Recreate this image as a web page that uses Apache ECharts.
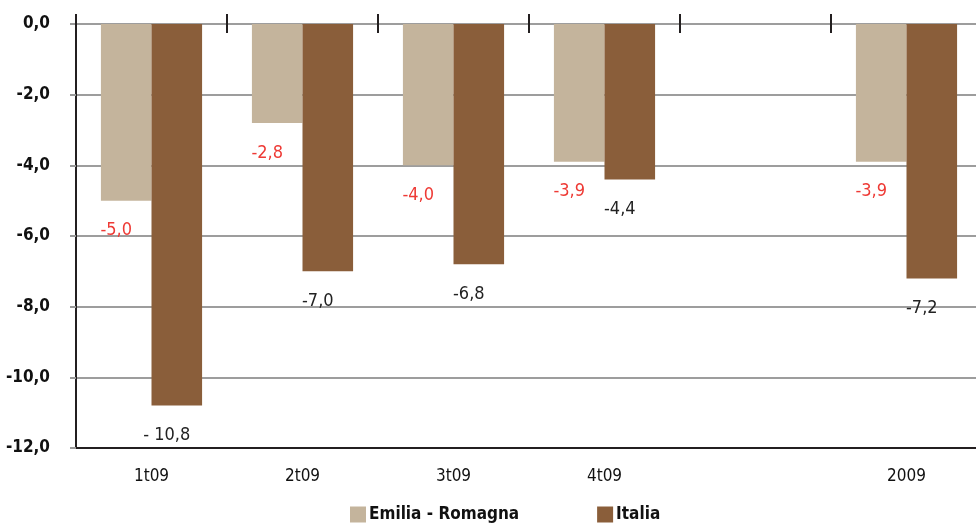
<!DOCTYPE html>
<html>
<head>
<meta charset="utf-8">
<script src="https://cdn.jsdelivr.net/npm/echarts@6/dist/echarts.min.js"></script>
<style>
  html, body { margin: 0; padding: 0; background: #fff; }
  #main { width: 976px; height: 523px; }
</style>
</head>
<body>
<div id="main"></div>
<script>
const categories = ['1t09', '2t09', '3t09', '4t09', '', '2009'];
const emilia = [-5.0, -2.8, -4.0, -3.9, null, -3.9];
const italia = [-10.8, -7.0, -6.8, -4.4, null, -7.2];
const italiaText = ['- 10,8', '-7,0', '-6,8', '-4,4', '', '-7,2'];

const FONT = "'Liberation Sans Narrow', 'DejaVu Sans Condensed', sans-serif";
const fmt = v => v.toFixed(1).replace('.', ',');

let chart = echarts.init(document.getElementById('main'));

// extra top axes only draw the crossing tick marks on the 0 line
let tickAxis = function (inside, len) {
  return {
    type: 'category',
    data: categories,
    position: 'top',
    axisLine: { show: false, onZero: false },
    axisLabel: { show: false },
    axisTick: { show: true, inside: inside, length: len, lineStyle: { color: '#231f20', width: 2 } },
    splitLine: { show: false }
  };
};

let option = {
  animation: false,
  grid: { left: 76, top: 24, width: 906, bottom: 75, outerBoundsMode: 'none', containLabel: false },
  legend: {
    left: 345,
    top: 501,
    icon: 'rect',
    itemWidth: 16,
    itemHeight: 16,
    itemGap: 78,
    textStyle: { fontFamily: FONT, fontSize: 17, fontWeight: 'bold', color: '#111', padding: [0, 0, 0, -2] },
    data: ['Emilia - Romagna', 'Italia']
  },
  xAxis: [
    {
      type: 'category',
      data: categories,
      position: 'bottom',
      axisLine: { show: true, onZero: false, lineStyle: { color: '#231f20', width: 2 } },
      axisTick: { show: false },
      axisLabel: { margin: 20, fontFamily: FONT, fontSize: 17, color: '#111' }
    },
    tickAxis(false, 10),
    tickAxis(true, 9)
  ],
  yAxis: {
    type: 'value',
    min: -12,
    max: 0,
    interval: 2,
    axisLine: { show: true, lineStyle: { color: '#231f20', width: 2 } },
    axisTick: { show: true, length: 6, lineStyle: { color: '#999', width: 2 } },
    splitLine: { lineStyle: { color: '#9d9d9d', width: 2 } },
    axisLabel: {
      margin: 26,
      fontFamily: FONT,
      fontSize: 17,
      fontWeight: 'bold',
      color: '#111',
      formatter: fmt
    }
  },
  series: [
    {
      name: 'Emilia - Romagna',
      type: 'bar',
      barGap: '0%',
      barCategoryGap: '33%',
      itemStyle: { color: '#c4b49c' },
      label: {
        show: true,
        position: 'bottom',
        distance: 21,
        offset: [-10, 0],
        fontFamily: FONT,
        fontSize: 18,
        color: '#ee3a35',
        formatter: p => fmt(p.value)
      },
      data: emilia
    },
    {
      name: 'Italia',
      type: 'bar',
      itemStyle: { color: '#8a5e3a' },
      label: {
        show: true,
        position: 'bottom',
        distance: 21,
        offset: [-10, 0],
        fontFamily: FONT,
        fontSize: 18,
        color: '#222',
        formatter: p => italiaText[p.dataIndex]
      },
      data: italia
    }
  ]
};

chart.setOption(option);
</script>
</body>
</html>
